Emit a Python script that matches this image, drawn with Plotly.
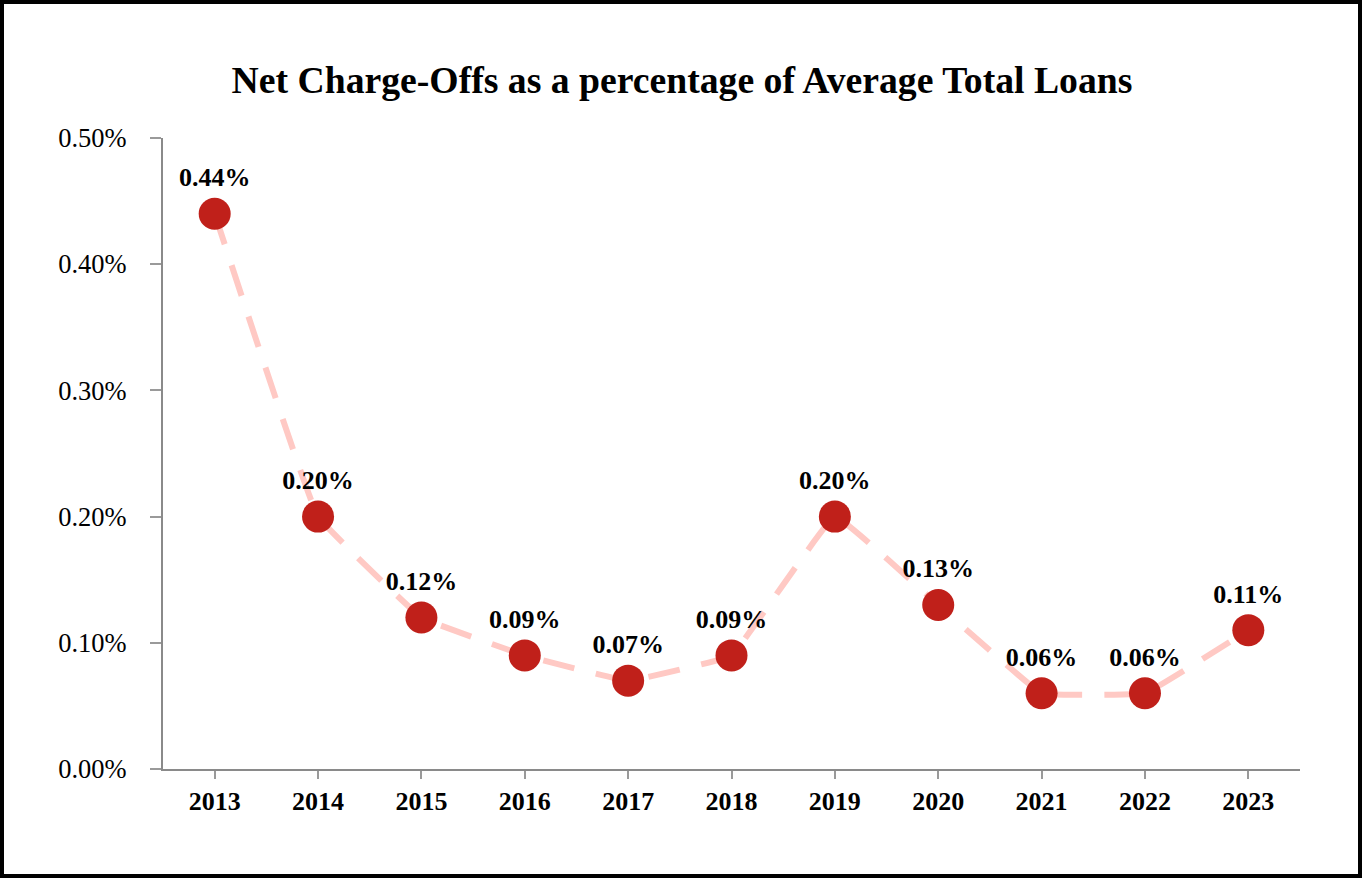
import plotly.graph_objects as go

years = ["2013", "2014", "2015", "2016", "2017", "2018", "2019", "2020", "2021", "2022", "2023"]
nco_pct = [0.44, 0.20, 0.12, 0.09, 0.07, 0.09, 0.20, 0.13, 0.06, 0.06, 0.11]
y_ticks = [0.0, 0.1, 0.2, 0.3, 0.4, 0.5]
y_tick_labels = ["0.00%", "0.10%", "0.20%", "0.30%", "0.40%", "0.50%"]
title_text = "Net Charge-Offs as a percentage of Average Total Loans"

W, H = 1364, 880
ml, mr, mt, mb = 163, 64, 138, 111
pw, ph = W - ml - mr, H - mt - mb

fig = go.Figure()
fig.add_trace(go.Scatter(
    x=years, y=nco_pct,
    mode="lines+markers+text",
    line=dict(color="#ffc9c4", width=6, dash="32px,22px", shape="spline", smoothing=0.2),
    marker=dict(color="#c0201a", size=32),
    texttemplate="%{y:.2f}%",
    textposition="top center",
    textfont=dict(family="Liberation Serif", size=26, color="black", weight="bold"),
    cliponaxis=False,
    hoverinfo="skip",
))

fig.update_layout(
    width=W, height=H,
    margin=dict(l=ml, r=mr, t=mt, b=mb),
    paper_bgcolor="white", plot_bgcolor="white",
    showlegend=False,
    title=dict(text="<b>" + title_text + "</b>", x=0.5, xanchor="center",
               y=1 - 80 / H, yanchor="middle",
               font=dict(family="Liberation Serif", size=37.7, color="black")),
    font=dict(family="Liberation Serif", color="black"),
    xaxis=dict(
        type="category", range=[-0.5, len(years) - 0.5],
        showline=True, linecolor="#8a8a8a", linewidth=2,
        ticks="outside", tickcolor="#9a9a9a", ticklen=8, tickwidth=2,
        showgrid=False, zeroline=False,
        tickfont=dict(family="Liberation Serif", size=26, color="black", weight="bold"),
    ),
    yaxis=dict(
        range=[0, 0.5], tickvals=y_ticks, ticktext=y_tick_labels,
        showline=True, linecolor="#8a8a8a", linewidth=2,
        ticks="outside", tickcolor="#9a9a9a", ticklen=11, tickwidth=2,
        ticklabelstandoff=18,
        showgrid=False, zeroline=False,
        tickfont=dict(family="Liberation Serif", size=26.5, color="black"),
    ),
    shapes=[dict(
        type="rect", xref="paper", yref="paper",
        x0=(2 - ml) / pw, x1=(W - 4 - ml) / pw,
        y0=(4 - mb) / ph, y1=(H - 2 - mb) / ph,
        line=dict(color="black", width=4), fillcolor="rgba(0,0,0,0)",
    )],
)

fig.write_html("out.html", config={"displayModeBar": False},
               post_script="document.body.style.margin='0';document.body.style.overflow='hidden';")
